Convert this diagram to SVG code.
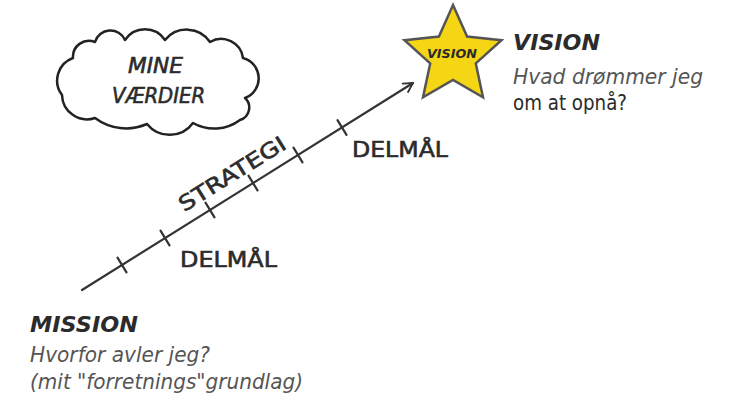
<svg xmlns="http://www.w3.org/2000/svg" width="730" height="412" viewBox="0 0 730 412">
  <style>
    .t { font-family: "DejaVu Sans", "Liberation Sans", sans-serif; fill: #2b2b2b; }
    .h { font-size: 22px; font-weight: bold; font-style: italic; }
    .sub { font-size: 21px; font-style: italic; fill: #555; }
    .lbl { font-size: 21px; stroke: #2b2b2b; stroke-width: 0.6px; }
    .line { stroke: #333; stroke-width: 2.2; fill: none; stroke-linecap: round; }
  </style>
  <defs>
    <marker id="arrow" markerUnits="userSpaceOnUse" markerWidth="14" markerHeight="14" viewBox="-12 -7 14 14" refX="0" refY="0" orient="auto">
      <path d="M-9,-5 L0,0 L-9,5" fill="none" stroke="#333" stroke-width="1.8" stroke-linecap="round" stroke-linejoin="round"/>
    </marker>
  </defs>
  <rect width="730" height="412" fill="#fff"/>

  <g id="connectors">
    <line class="line" x1="82" y1="290" x2="413" y2="83" marker-end="url(#arrow)"/>
    <g class="line">
      <line x1="117.5" y1="257.7" x2="126.5" y2="272.3"/>
      <line x1="160.5" y1="230.7" x2="169.5" y2="245.3"/>
      <line x1="205.5" y1="202.7" x2="214.5" y2="217.3"/>
      <line x1="248.5" y1="175.7" x2="257.5" y2="190.3"/>
      <line x1="293.5" y1="147.7" x2="302.5" y2="162.3"/>
      <line x1="337.5" y1="120.2" x2="346.5" y2="134.8"/>
    </g>
  </g>

  <g id="cloud-mine-vaerdier">
    <path d="M62,95 A24,24 0 0 1 73,58 A16,16 0 0 1 95,42 A16,16 0 0 1 125,40 A24,24 0 0 1 165,40 A28,28 0 0 1 210,42 A22,22 0 0 1 243,58 A21,21 0 0 1 245,98 A13,13 0 0 1 240,120 A43,43 0 0 1 193,123 A29,29 0 0 1 147,124 A52,52 0 0 1 95,118 A25,25 0 0 1 62,95 Z" fill="#fff" stroke="#222" stroke-width="2.5" stroke-linejoin="round"/>
    <text class="t lbl" x="155.5" y="73" text-anchor="middle" font-style="italic" textLength="55" lengthAdjust="spacingAndGlyphs">MINE</text>
    <text class="t lbl" x="158.5" y="103" text-anchor="middle" font-style="italic" textLength="93" lengthAdjust="spacingAndGlyphs">VÆRDIER</text>
  </g>

  <g id="star-vision">
    <polygon points="453,5 467.1,36.6 501.5,40.2 475.8,63.4 483,97.3 453,80 423,97.3 430.2,63.4 404.5,40.2 438.9,36.6" fill="#F4D615" stroke="#555" stroke-width="2.5" stroke-linejoin="miter"/>
    <text class="t" x="452" y="58" text-anchor="middle" font-size="12" font-weight="bold" font-style="italic" textLength="50" lengthAdjust="spacingAndGlyphs">VISION</text>
  </g>

  <g id="vision-text">
    <text class="t h" x="513" y="50" textLength="87" lengthAdjust="spacingAndGlyphs">VISION</text>
    <text class="t sub" x="513" y="84" textLength="190" lengthAdjust="spacingAndGlyphs">Hvad drømmer jeg</text>
    <text class="t" x="513" y="110" font-size="21" fill="#333" textLength="114" lengthAdjust="spacingAndGlyphs">om at opnå?</text>
  </g>

  <g id="strategi">
    <text class="t lbl" transform="translate(236,180) rotate(-32)" x="0" y="0" text-anchor="middle" textLength="122" lengthAdjust="spacingAndGlyphs">STRATEGI</text>
  </g>

  <g id="delmaal-1">
    <text class="t lbl" x="180" y="267" textLength="97" lengthAdjust="spacingAndGlyphs">DELMÅL</text>
  </g>
  <g id="delmaal-2">
    <text class="t lbl" x="352" y="157" textLength="96" lengthAdjust="spacingAndGlyphs">DELMÅL</text>
  </g>

  <g id="mission-text">
    <text class="t h" x="30" y="332" textLength="108" lengthAdjust="spacingAndGlyphs">MISSION</text>
    <text class="t sub" x="30" y="362" textLength="180" lengthAdjust="spacingAndGlyphs">Hvorfor avler jeg?</text>
    <text class="t sub" x="30" y="389" textLength="273" lengthAdjust="spacingAndGlyphs">(mit "forretnings"grundlag)</text>
  </g>
</svg>
